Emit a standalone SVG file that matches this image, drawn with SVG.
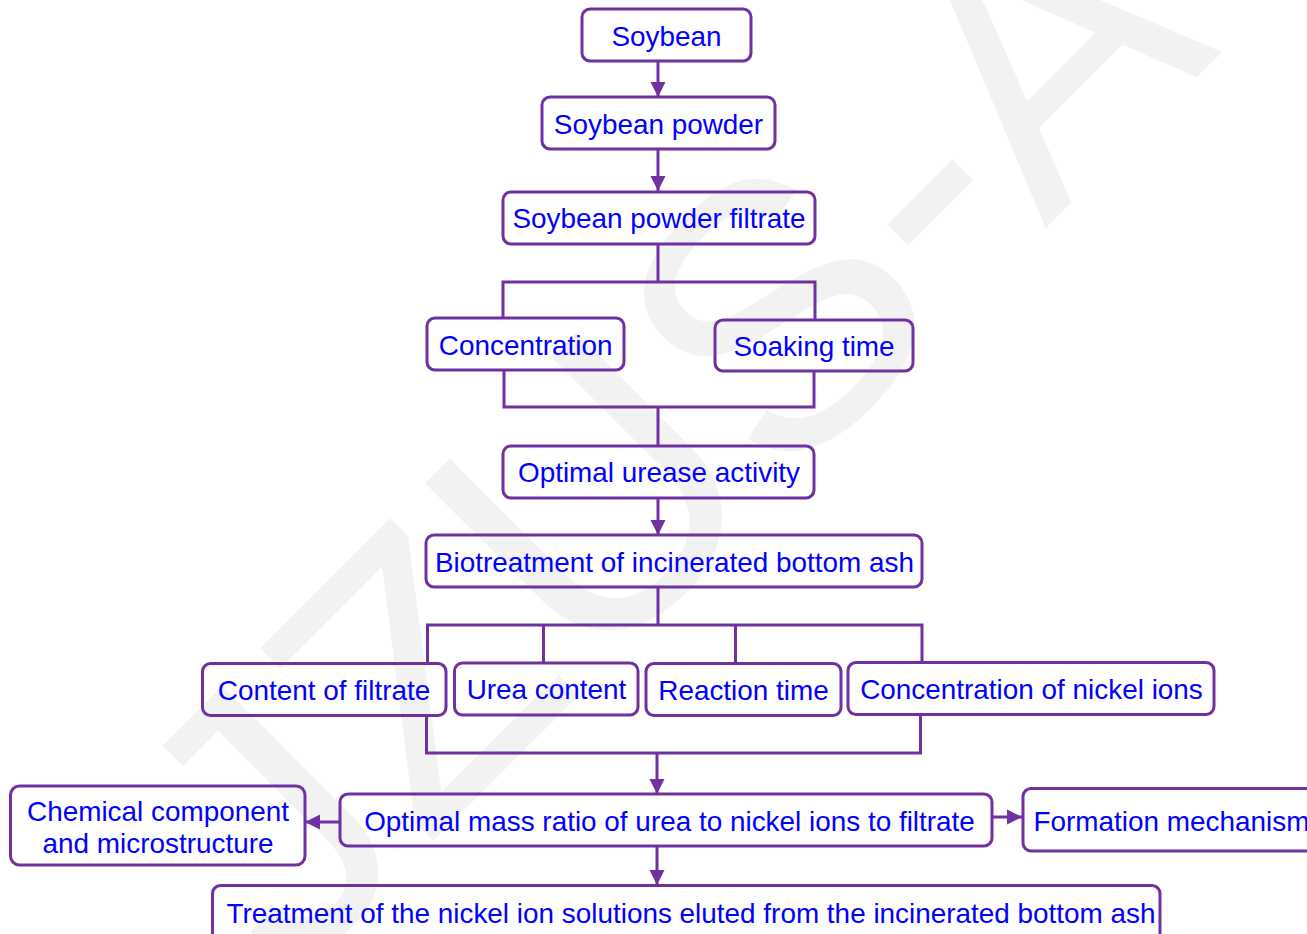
<svg xmlns="http://www.w3.org/2000/svg" width="1307" height="934" viewBox="0 0 1307 934">
<style>
.box{fill:none;stroke:#7030A0;stroke-width:3}
.lbl{font-family:"Liberation Sans",Arial,sans-serif;font-size:27.9px;fill:#0000FF;text-anchor:middle}
.ln{fill:none;stroke:#7030A0;stroke-width:3}
.arr{marker-end:url(#ah)}
.wm{font-family:"Liberation Sans",Arial,sans-serif;font-size:376px;fill:#f2f2f2}
</style>
<defs>
<marker id="ah" markerUnits="userSpaceOnUse" markerWidth="16" markerHeight="16" refX="15" refY="8" orient="auto">
<path d="M0,0.5 L15,8 L0,15.5 z" fill="#7030A0"/>
</marker>
</defs>
<rect width="1307" height="934" fill="#ffffff"/>
<g id="watermark">
<text class="wm" transform="translate(292,982) rotate(-45)">JZUS-A</text>
</g>
<g id="connectors">
<path class="ln arr" d="M658,61 V97"/>
<path class="ln arr" d="M658,149 V191"/>
<path class="ln" d="M658,244 V282 M503,318 V282 H815 V320"/>
<path class="ln" d="M504,370 V407 H814 V371 M658,407 V446"/>
<path class="ln arr" d="M658,498 V535"/>
<path class="ln" d="M658,587 V625 M427.5,663 V625 H922 V662 M543.5,625 V663 M735.5,625 V663"/>
<path class="ln" d="M426.5,715 V753 H920.5 V714"/>
<path class="ln arr" d="M657,753 V794"/>
<path class="ln arr" d="M340,822 H305"/>
<path class="ln arr" d="M992,817 H1022"/>
<path class="ln arr" d="M657,846 V885"/>
</g>
<g id="n-soybean"><rect class="box" x="582" y="9" width="169" height="52" rx="8"/><text class="lbl" x="666.5" y="45.5">Soybean</text></g>
<g id="n-powder"><rect class="box" x="542" y="97" width="233" height="52" rx="8"/><text class="lbl" x="658.5" y="133.5">Soybean powder</text></g>
<g id="n-filtrate"><rect class="box" x="503" y="192" width="312" height="52" rx="8"/><text class="lbl" x="659" y="228">Soybean powder filtrate</text></g>
<g id="n-concentration"><rect class="box" x="427" y="318" width="197" height="52" rx="8"/><text class="lbl" x="525.7" y="355">Concentration</text></g>
<g id="n-soaking"><rect class="box" x="715" y="320" width="198" height="51" rx="8"/><text class="lbl" x="814" y="356">Soaking time</text></g>
<g id="n-urease"><rect class="box" x="503" y="446" width="311" height="52" rx="8"/><text class="lbl" x="659" y="482">Optimal urease activity</text></g>
<g id="n-biotreat"><rect class="box" x="426" y="535" width="496" height="52" rx="8"/><text class="lbl" x="674.5" y="571.5">Biotreatment of incinerated bottom ash</text></g>
<g id="n-content"><rect class="box" x="202.5" y="663.5" width="243.5" height="52" rx="8"/><text class="lbl" x="324" y="699.5">Content of filtrate</text></g>
<g id="n-urea"><rect class="box" x="454.5" y="663" width="183.5" height="52" rx="8"/><text class="lbl" x="546.5" y="699">Urea content</text></g>
<g id="n-reaction"><rect class="box" x="646" y="663.5" width="195" height="52" rx="8"/><text class="lbl" x="743.5" y="699.5">Reaction time</text></g>
<g id="n-nickel"><rect class="box" x="848" y="662.5" width="366" height="52" rx="8"/><text class="lbl" x="1031.5" y="699">Concentration of nickel ions</text></g>
<g id="n-chemical"><rect class="box" x="10.5" y="786" width="294.5" height="79" rx="9"/><text class="lbl" x="158" y="821">Chemical component</text><text class="lbl" x="158" y="853">and microstructure</text></g>
<g id="n-ratio"><rect class="box" x="340" y="794" width="652" height="52" rx="8"/><text class="lbl" x="669.5" y="831">Optimal mass ratio of urea to nickel ions to filtrate</text></g>
<g id="n-formation"><rect class="box" x="1023" y="788.5" width="300" height="62.5" rx="8"/><text class="lbl" x="1033.5" y="831" style="text-anchor:start">Formation mechanism</text></g>
<g id="n-treatment"><rect class="box" x="212.5" y="885.5" width="947.5" height="56" rx="8"/><text class="lbl" x="691" y="923">Treatment of the nickel ion solutions eluted from the incinerated bottom ash</text></g>
</svg>
